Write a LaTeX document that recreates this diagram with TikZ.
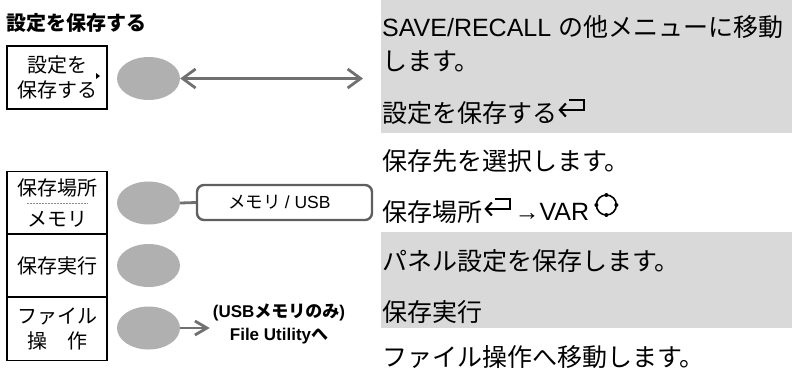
\documentclass[tikz,border=0pt]{standalone}
\usepackage{fontspec}
\setmainfont{Liberation Sans}
\newfontfamily\jp{Noto Sans CJK JP}
\usetikzlibrary{shapes.geometric, arrows.meta, calc}
\definecolor{KeyGray}{RGB}{176, 176, 176}
\definecolor{BandGray}{RGB}{217, 217, 217}
\definecolor{LineGray}{RGB}{112, 112, 112}
\definecolor{BoxGray}{RGB}{95, 95, 95}
\definecolor{DashGray}{RGB}{140, 140, 140}

\tikzset{
  retkey/.pic={
    \draw[line width=2.1pt, {Straight Barb[length=6pt, width=13pt]}-] (0,0) -- (26,0) -- (26,-10) -- (11,-10);
  },
  varknob/.pic={
    \draw[line width=1.6pt] (0,0) circle[radius=10];
    \foreach \a in {0,90,180,270}
      \fill (\a:10) circle[radius=2];
  }
}

\begin{document}
\begin{tikzpicture}[x=1pt, y=-1pt,
    menubox/.style={draw, line width=1.2pt, minimum width=100pt, minimum height=63pt, inner sep=0pt, align=center, font=\jp\fontsize{20}{24.5}\selectfont},
    softkey/.style={ellipse, fill=KeyGray, minimum width=63pt, minimum height=43pt, inner sep=0pt},
    desc/.style={anchor=west, inner sep=0pt, font=\jp\fontsize{25}{30}\selectfont},
    link/.style={LineGray, line width=2.8pt}]
  \useasboundingbox (0,0) rectangle (792,368);

  % shaded rows of the description column
  \fill[BandGray] (381,0) rectangle (792,133);
  \fill[BandGray] (381,232) rectangle (792,328);

  % menu keys
  \node[anchor=west, inner sep=0pt, font=\jp\bfseries\fontsize{20}{24}\selectfont] (title) at (6,23) {設定を保存する};
  \node[menubox] (b1) at (57,77.5) {設定を\\保存する};
  \fill (96,73) -- (100,76) -- (96,79) -- cycle;
  \node[menubox] (b2) at (57,203) {保存場所\\[6.5pt]メモリ};
  \draw[DashGray, line width=0.8pt, dash pattern=on 2pt off 1pt] ($(b2.center)+(-30,0)$) -- ($(b2.center)+(31,0)$);
  \node[menubox] (b3) at (57,265.5) {保存実行};
  \node[menubox] (b4) at (57,329) {ファイル\\操　作};

  % soft keys
  \node[softkey] (k1) at (148.5,78.5) {};
  \node[softkey] (k2) at (148.5,203) {};
  \node[softkey] (k3) at (148.5,265.5) {};
  \node[softkey] (k4) at (148.5,328) {};

  \coordinate (a1) at (363,78.5);
  \draw[link, {Straight Barb[length=13pt, width=19pt]}-{Straight Barb[length=13pt, width=19pt]}] (k1.east) -- (a1);

  \node[draw=BoxGray, line width=2.4pt, rounded corners=7pt, minimum width=175pt, minimum height=35pt, font=\jp\fontsize{17.5}{20}\selectfont] (m2) at (284.5,202.5) {\hspace*{-10pt}メモリ {\rmfamily / USB}};
  \draw[link] (k2.east) -- (m2.west);

  \node[inner sep=0pt, align=center, font=\bfseries\fontsize{17}{23.5}\selectfont] (fu) at (279,324) {(USB{\jp メモリのみ})\\File Utility{\jp へ}};
  \draw[link, shorten >=3pt, -{Straight Barb[length=12pt, width=14pt]}] (k4.east) -- (k4.east -| fu.west);

  % descriptions
  \node[desc] (d1) at (382,27.5) {{\rmfamily SAVE/RECALL }の他メニューに移動};
  \node[desc] (d2) at (382,61) {します。};
  \node[desc] (d3) at (382,113) {設定を保存する};
  \pic at ($(d3.east)+(1,-3)$) {retkey};
  \node[desc] (d4) at (382,161) {保存先を選択します。};
  \node[desc] (d5) at (382,212) {保存場所};
  \pic at ($(d5.east)+(2,-3)$) {retkey};
  \node[desc, font=\fontsize{25}{30}\selectfont] (d5b) at ($(d5.east)+(32,0)$) {→VAR};
  \pic at ($(d5b.east)+(17,-7)$) {varknob};
  \node[desc] (d6) at (382,261) {パネル設定を保存します。};
  \node[desc] (d7) at (382,312) {保存実行};
  \node[desc] (d8) at (382,357) {ファイル操作へ移動します。};
\end{tikzpicture}
\end{document}
